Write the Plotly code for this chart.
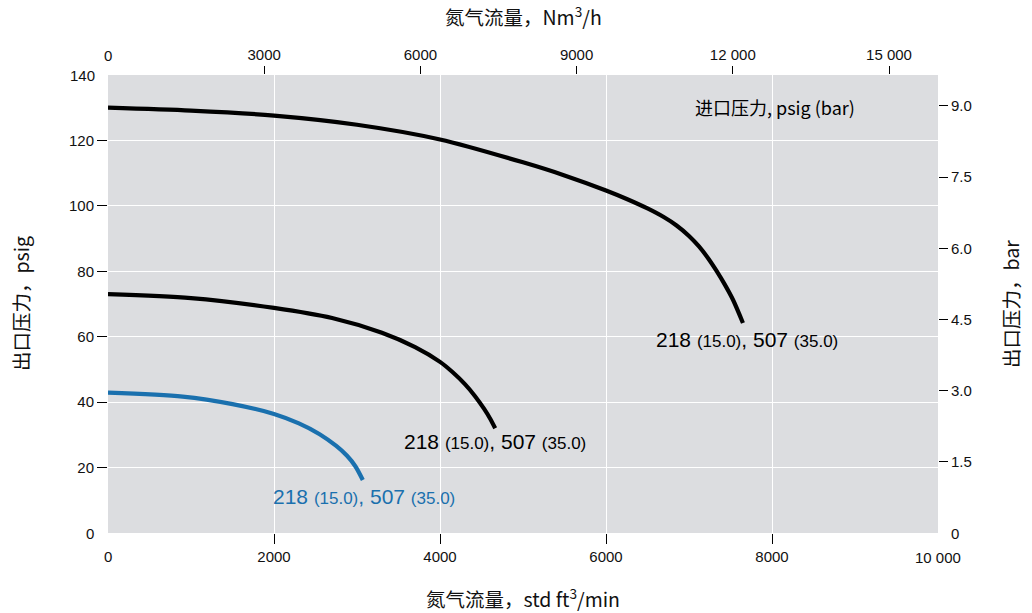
import plotly.graph_objects as go

# ---- data (std ft3/min, psig) ----
flow_hi = [0, 1000, 2000, 3000, 4000, 5000, 5500, 6000, 6250, 6500, 6700, 6850, 7000, 7120, 7230, 7330, 7430, 7530, 7650]
psig_hi = [130, 129.1, 127.6, 124.8, 120.3, 113.3, 109.3, 104.7, 102.1, 99.2, 96.5, 94.0, 90.8, 87.6, 84.0, 80.2, 76.0, 71.3, 64.2]

flow_mid = [0, 1000, 2000, 2700, 3300, 3700, 4000, 4150, 4300, 4420, 4530, 4610, 4665]
psig_mid = [73.0, 71.8, 68.8, 65.7, 61.2, 56.8, 52.3, 49.2, 45.5, 41.9, 38.0, 34.7, 32.0]

flow_lo = [0, 900, 1500, 2000, 2300, 2550, 2750, 2880, 2980, 3070]
psig_lo = [42.9, 41.7, 39.4, 36.4, 33.5, 30.2, 26.6, 23.6, 20.4, 16.2]

label_text = "218 <span style='font-size:17px'>(15.0)</span>, 507 <span style='font-size:17px'>(35.0)</span>"
label_x = [7700, 4660, 3085]
label_y = [59.0, 28.1, 11.3]
label_colors = ["#000000", "#000000", "#1a70ae"]

x_ticks = [2000, 4000, 6000, 8000]
x_ticktext = ["2000", "4000", "6000", "8000"]
top_ticks = [3000, 6000, 9000, 12000, 15000]
top_ticktext = ["3000", "6000", "9000", "12 000", "15 000"]
y_ticks = [20, 40, 60, 80, 100, 120]
bar_ticks = [1.5, 3.0, 4.5, 6.0, 7.5, 9.0]

X_MAX = 10000
TOP_MAX = 15941
Y_MAX = 140
BAR_MAX = 140 / 14.5038

FONT = "Liberation Sans, Arial, sans-serif"
CJK = "Noto Sans CJK SC, Liberation Sans, sans-serif"
TXT = "#111111"

fig = go.Figure()
fig.add_trace(go.Scatter(x=flow_hi, y=psig_hi, mode="lines", line=dict(color="#000000", width=4.2, shape="spline", smoothing=0.8), hoverinfo="skip"))
fig.add_trace(go.Scatter(x=flow_mid, y=psig_mid, mode="lines", line=dict(color="#000000", width=4.2, shape="spline", smoothing=0.8), hoverinfo="skip"))
fig.add_trace(go.Scatter(x=flow_lo, y=psig_lo, mode="lines", line=dict(color="#1a70ae", width=4.2, shape="spline", smoothing=0.8), hoverinfo="skip"))
# invisible traces to activate secondary axes
fig.add_trace(go.Scatter(x=[0], y=[0], xaxis="x2", yaxis="y", mode="markers", marker=dict(opacity=0), hoverinfo="skip"))
fig.add_trace(go.Scatter(x=[0], y=[0], xaxis="x", yaxis="y2", mode="markers", marker=dict(opacity=0), hoverinfo="skip"))

tick_font = dict(family=FONT, size=15, color=TXT)
title_font = dict(family=CJK, size=19.5, color=TXT)

annotations = []
for tx, ty, col in zip(label_x, label_y, label_colors):
    annotations.append(dict(x=tx, y=ty, xref="x", yref="y", text=label_text, showarrow=False,
                            font=dict(family=FONT, size=21, color=col)))
annotations.append(dict(x=8036, y=130.2, xref="x", yref="y", text="进口压力, psig (bar)", showarrow=False,
                        font=dict(family=CJK, size=18, color="#000000")))
# end tick labels drawn without tick marks
annotations += [
    dict(x=0, y=140, xref="paper", yref="y", text="140", showarrow=False, xanchor="right", xshift=-11, font=tick_font),
    dict(x=0, y=0, xref="paper", yref="y", text="0", showarrow=False, xanchor="right", xshift=-12, font=tick_font),
    dict(x=1, y=0, xref="paper", yref="y", text="0", showarrow=False, xanchor="left", xshift=11, font=tick_font),
    dict(x=0, y=0, xref="x", yref="paper", text="0", showarrow=False, yanchor="top", yshift=-13, font=tick_font),
    dict(x=10000, y=0, xref="x", yref="paper", text="10 000", showarrow=False, yanchor="top", yshift=-14, font=tick_font),
    dict(x=0, y=1, xref="x", yref="paper", text="0", showarrow=False, yanchor="bottom", yshift=9, font=tick_font),
]
# axis titles
annotations += [
    dict(x=0.5, y=1 + 59 / 458, xref="paper", yref="paper", text="氮气流量，Nm<sup>3</sup>/h", showarrow=False,
         xanchor="center", yanchor="middle", font=title_font),
    dict(x=0.5, y=-65 / 458, xref="paper", yref="paper", text="氮气流量，std ft<sup>3</sup>/min", showarrow=False,
         xanchor="center", yanchor="middle", font=title_font),
    dict(x=-88 / 830, y=0.5, xref="paper", yref="paper", text="出口压力，psig", showarrow=False, textangle=-90,
         xanchor="center", yanchor="middle", font=title_font),
    dict(x=1 + 72 / 830, y=0.5, xref="paper", yref="paper", text="出口压力，bar", showarrow=False, textangle=-90,
         xanchor="center", yanchor="middle", font=title_font),
]

fig.update_layout(
    width=1032, height=613,
    margin=dict(l=108, r=94, t=75, b=80, autoexpand=False),
    paper_bgcolor="#ffffff",
    plot_bgcolor="#dcdde0",
    showlegend=False,
    font=dict(family=FONT, size=15, color=TXT),
    xaxis=dict(range=[0, X_MAX], tickvals=x_ticks, ticktext=x_ticktext, ticks="outside", ticklen=10,
               tickcolor="#000000", showgrid=True, gridcolor="#ffffff", gridwidth=1, zeroline=False,
               showline=False, tickfont=tick_font, automargin=False),
    xaxis2=dict(range=[0, TOP_MAX], overlaying="x", side="top", tickvals=top_ticks, ticktext=top_ticktext,
                ticks="outside", ticklen=8, tickcolor="#000000", showgrid=False, zeroline=False, showline=False,
                tickfont=tick_font, automargin=False),
    yaxis=dict(range=[0, Y_MAX], tickvals=y_ticks, ticks="outside", ticklen=10, tickcolor="#000000",
               showgrid=True, gridcolor="#ffffff", gridwidth=1, zeroline=False, showline=False, tickfont=tick_font,
               automargin=False),
    yaxis2=dict(range=[0, BAR_MAX], overlaying="y", side="right", tickvals=bar_ticks, tickformat=".1f",
                ticks="outside", ticklen=9, tickcolor="#000000", showgrid=False, zeroline=False, showline=False,
                tickfont=tick_font, automargin=False),
    annotations=annotations,
)

# remove the browser's default 8px page margin so the figure fills the window exactly
fig.write_html("out.html", config={"displayModeBar": False, "staticPlot": True},
               post_script="document.body.style.margin='0px';document.body.style.overflow='hidden';")
